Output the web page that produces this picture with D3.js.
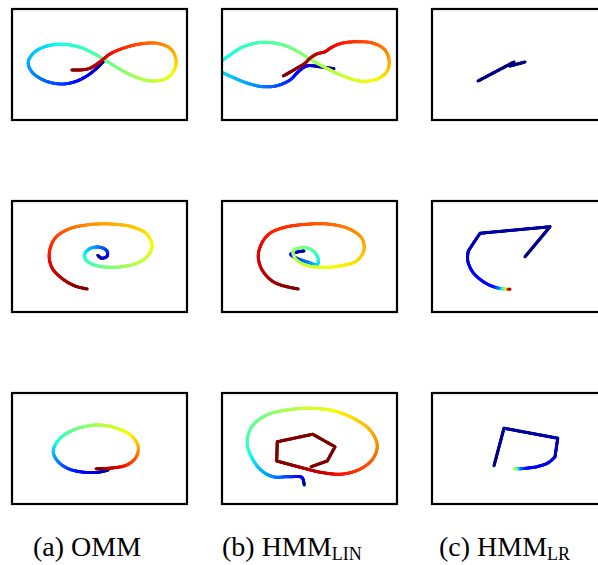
<!DOCTYPE html>
<html>
<head>
<meta charset="utf-8">
<script src="https://cdn.jsdelivr.net/npm/d3@7"></script>
<style>
  html, body { margin: 0; padding: 0; background: #fff; }
  svg { display: block; }
</style>
</head>
<body>
<svg id="chart" width="598" height="565"></svg>
<script>
// Trajectory points: [x, y, time], time in [0, 1] drives the jet colour.

// (a) OMM
const ommEight = [
  [0.18,0.15,0.0],[-0.11,-0.15,0.05],[-0.51,-0.46,0.1],[-0.98,-0.69,0.14],[-1.51,-0.78,0.18],
  [-2.18,-0.65,0.22],[-2.71,-0.29,0.26],[-2.85,0.11,0.29],[-2.58,0.51,0.32],[-2.05,0.75,0.35],
  [-1.45,0.81,0.38],[-0.78,0.69,0.41],[-0.25,0.45,0.44],[0.22,0.18,0.47],[0.75,-0.15,0.5],
  [1.35,-0.46,0.54],[2.09,-0.66,0.58],[2.69,-0.55,0.62],[3.02,-0.15,0.66],[3.05,0.25,0.7],
  [2.82,0.65,0.74],[2.29,0.85,0.78],[1.62,0.82,0.82],[0.95,0.65,0.86],[0.42,0.42,0.9],
  [0.02,0.11,0.93],[-0.38,-0.15,0.96],[-0.78,-0.22,0.98],[-1.11,-0.22,1.0]
];
const ommSpiral = [
  [-0.07,0.05,0.0],[0.09,-0.07,0.05],[0.31,0.02,0.1],[0.29,0.23,0.16],[0.02,0.37,0.22],
  [-0.35,0.33,0.29],[-0.58,0.13,0.35],[-0.54,-0.14,0.4],[-0.18,-0.35,0.45],[0.42,-0.43,0.5],
  [1.09,-0.38,0.54],[1.62,-0.21,0.58],[1.99,0.1,0.61],[2.1,0.46,0.64],[1.89,0.9,0.67],
  [1.29,1.19,0.7],[0.42,1.3,0.73],[-0.45,1.27,0.76],[-1.25,1.09,0.8],[-1.78,0.73,0.84],
  [-2.01,0.13,0.88],[-1.91,-0.43,0.92],[-1.51,-0.87,0.95],[-0.98,-1.18,0.98],[-0.49,-1.3,1.0]
];
const ommCircle = [
  [0.35,-0.86,0],[-0.05,-0.95,0.05],[-0.71,-0.94,0.12],[-1.31,-0.78,0.18],[-1.71,-0.46,0.25],
  [-1.85,-0.09,0.32],[-1.61,0.37,0.4],[-1.05,0.74,0.47],[-0.11,0.94,0.55],[0.69,0.81,0.6],
  [1.29,0.5,0.66],[1.55,0.07,0.72],[1.46,-0.35,0.8],[1.09,-0.66,0.87],[0.49,-0.78,0.94],
  [-0.14,-0.81,1.0]
];

// (b) HMM_LIN
const linEight = [
  [0.98,-0.17,0.0],[0.42,-0.09,0.04],[-0.11,-0.06,0.08],[-0.45,-0.29,0.11],[-0.78,-0.62,0.15],
  [-1.31,-0.85,0.2],[-1.85,-0.89,0.24],[-2.38,-0.78,0.28],[-2.98,-0.55,0.31],[-3.58,-0.22,0.34],
  [-3.58,0.05,0.36],[-3.18,0.38,0.38],[-2.65,0.71,0.41],[-1.85,0.89,0.44],[-1.05,0.78,0.47],
  [-0.45,0.51,0.5],[0.02,0.21,0.53],[0.69,-0.15,0.56],[1.35,-0.46,0.59],[2.02,-0.66,0.62],
  [2.69,-0.59,0.65],[3.09,-0.29,0.69],[3.19,0.11,0.73],[3.02,0.58,0.77],[2.55,0.85,0.81],
  [1.89,0.91,0.85],[1.29,0.85,0.88],[0.89,0.69,0.9],[0.62,0.51,0.92],[0.29,0.42,0.94],
  [0.02,0.25,0.96],[-0.18,0.05,0.97],[-0.58,-0.19,0.99],[-1.05,-0.46,1.0]
];
const linSpiral = [
  [-0.22,0.22,0.0],[-0.49,0.18,0.06],[-0.75,0.09,0.12],[-0.51,-0.07,0.18],[-0.05,-0.23,0.25],
  [0.31,-0.33,0.32],[0.35,-0.11,0.37],[0.22,0.15,0.42],[-0.05,0.33,0.47],[-0.41,0.34,0.5],
  [-0.65,0.23,0.53],[-0.58,-0.07,0.56],[-0.18,-0.34,0.59],[0.42,-0.43,0.62],[1.22,-0.38,0.65],
  [1.89,-0.17,0.68],[2.18,0.26,0.71],[2.09,0.73,0.74],[1.62,1.09,0.77],[0.82,1.29,0.8],
  [-0.11,1.29,0.83],[-0.98,1.17,0.86],[-1.58,0.93,0.88],[-1.91,0.53,0.9],[-2.05,-0.01,0.92],
  [-1.87,-0.58,0.94],[-1.38,-1.05,0.97],[-0.45,-1.3,1.0]
];
const linCircleLoop = [
  [-0.21,-1.46,0],[-0.25,-1.26,0.05],[-0.31,-1.15,0.1],[-0.85,-1.13,0.18],[-1.45,-1.13,0.25],
  [-1.91,-0.89,0.3],[-2.27,-0.43,0.35],[-2.49,0.21,0.42],[-2.31,0.87,0.46],[-1.71,1.34,0.5],
  [-0.91,1.54,0.55],[0.02,1.61,0.6],[0.95,1.51,0.64],[1.75,1.21,0.68],[2.42,0.74,0.72],
  [2.71,0.14,0.76],[2.55,-0.39,0.8],[2.09,-0.79,0.84],[1.35,-1.02,0.88],[0.55,-0.97,0.93],
  [-0.38,-0.75,0.97],[-1.31,-0.5,1.0]
];
const linCircleTail = [
  [-1.31,-0.5,1],[-1.29,0.27,1],[0.13,0.57,1],[1.02,0.07,1],[0.71,-0.5,1],[0.06,-0.73,1]
];

// (c) HMM_LR
const lrEight = [
  [-1.66,-0.66,0],[-0.22,0.1,0],[-0.38,-0.06,0],[0.22,0.1,0]
];
const lrSpiralEdges = [
  [0.22,-0.01,0],[1.22,1.19,0.02],[-1.58,0.93,0.04],[-2.05,0.22,0.06]
];
const lrSpiralArc = [
  [-2.05,0.22,0.06],[-2.07,-0.17,0.08],[-1.85,-0.65,0.1],[-1.38,-1.05,0.12],[-0.98,-1.23,0.15],
  [-0.71,-1.29,0.3],[-0.58,-1.3,0.5],[-0.49,-1.31,0.7],[-0.38,-1.31,1.0]
];
const lrCircleEdges = [
  [-1.02,-0.69,0],[-0.62,0.81,0.02],[1.53,0.41,0.04],[1.42,-0.33,0.06]
];
const lrCircleArc = [
  [1.42,-0.33,0.06],[1.15,-0.57,0.08],[0.69,-0.73,0.1],[0.26,-0.79,0.13],[0.02,-0.81,0.2],
  [-0.11,-0.81,0.35],[-0.22,-0.81,0.6]
];

const captionMain = ["(a) OMM", "(b) HMM", "(c) HMM"];
const captionSub = ["", "LIN", "LR"];

// ---- layout ----
const colLeft = [12, 222, 432];
const rowTop = [9, 201, 393];
const panelW = 175, panelH = 111;
const captionX = [33, 222, 439];
const captionY = 556;

const panels = [
  { col: 0, row: 0, pieces: [{ curve: "smooth", pts: ommEight }] },
  { col: 1, row: 0, pieces: [{ curve: "smooth", pts: linEight }] },
  { col: 2, row: 0, pieces: [{ curve: "linear", pts: lrEight }] },
  { col: 0, row: 1, pieces: [{ curve: "smooth", pts: ommSpiral }] },
  { col: 1, row: 1, pieces: [{ curve: "smooth", pts: linSpiral }] },
  { col: 2, row: 1, pieces: [{ curve: "linear", pts: lrSpiralEdges }, { curve: "smooth", pts: lrSpiralArc }] },
  { col: 0, row: 2, pieces: [{ curve: "smooth", pts: ommCircle }] },
  { col: 1, row: 2, pieces: [{ curve: "smooth", pts: linCircleLoop }, { curve: "linear", pts: linCircleTail }] },
  { col: 2, row: 2, pieces: [{ curve: "linear", pts: lrCircleEdges }, { curve: "smooth", pts: lrCircleArc }] }
];

// jet colour map (piecewise linear channels)
const jr = d3.scaleLinear().domain([0, 0.35, 0.66, 0.89, 1]).range([0, 0, 1, 1, 0.5]).clamp(true);
const jg = d3.scaleLinear().domain([0, 0.125, 0.375, 0.64, 0.91, 1]).range([0, 0, 1, 1, 0, 0]).clamp(true);
const jb = d3.scaleLinear().domain([0, 0.11, 0.34, 0.65, 1]).range([0.5, 1, 1, 0, 0]).clamp(true);
const jet = t => d3.rgb(255 * jr(t), 255 * jg(t), 255 * jb(t)).formatHex();

const x = d3.scaleLinear().domain([-3.5, 3.5]).range([0, panelW]);
const y = d3.scaleLinear().domain([-2.22, 2.22]).range([panelH, 0]);

const svg = d3.select("#chart");
const defs = svg.append("defs");
const measure = svg.append("path").attr("visibility", "hidden").attr("fill", "none");

const curves = { smooth: d3.curveCatmullRom.alpha(0.5), linear: d3.curveLinear };

// Draws one piece of a trajectory, colouring each curve segment by time.
function drawPiece(g, pts, curveName) {
  const line = d3.line().x(d => x(d[0])).y(d => y(d[1])).curve(curves[curveName]);
  const cmds = line(pts).match(/[MLC][^MLC]*/g);
  let start = null;
  cmds.forEach((c, i) => {
    const nums = c.slice(1).split(/[\s,]+/).filter(s => s.length).map(Number);
    const end = nums.slice(-2);
    if (c[0] === "M") { start = end; return; }
    const seg = i - 1;
    measure.attr("d", `M${start[0]},${start[1]}${c}`);
    const node = measure.node();
    const L = node.getTotalLength();
    const k = Math.max(1, Math.ceil(L / 1.0));
    const t0 = pts[seg][2], t1 = pts[seg + 1][2];
    let prev = node.getPointAtLength(0);
    for (let j = 1; j <= k; j++) {
      const p = node.getPointAtLength(L * j / k);
      g.append("line")
        .attr("x1", prev.x).attr("y1", prev.y)
        .attr("x2", p.x).attr("y2", p.y)
        .attr("stroke", jet(t0 + (t1 - t0) * (j - 0.5) / k))
        .attr("stroke-width", 3)
        .attr("stroke-linecap", "round");
      prev = p;
    }
    start = end;
  });
}

panels.forEach((p, idx) => {
  const g = svg.append("g").attr("transform", `translate(${colLeft[p.col]},${rowTop[p.row]})`);
  defs.append("clipPath").attr("id", `clip${idx}`)
    .append("rect").attr("x", 0).attr("y", 0).attr("width", panelW).attr("height", panelH);
  const inner = g.append("g").attr("clip-path", `url(#clip${idx})`);
  p.pieces.forEach(pc => drawPiece(inner, pc.pts, pc.curve));
  g.append("rect")
    .attr("x", 0).attr("y", 0).attr("width", panelW).attr("height", panelH)
    .attr("fill", "none").attr("stroke", "#000").attr("stroke-width", 2.2);
});

measure.remove();

// captions
captionMain.forEach((txt, i) => {
  const t = svg.append("text")
    .attr("x", captionX[i]).attr("y", captionY)
    .attr("font-family", "'Liberation Serif', 'DejaVu Serif', serif")
    .attr("font-size", 28)
    .attr("fill", "#000");
  t.append("tspan").text(txt);
  if (captionSub[i]) {
    t.append("tspan").attr("dy", 3.5).attr("font-size", 18).text(captionSub[i]);
  }
});
</script>
</body>
</html>
